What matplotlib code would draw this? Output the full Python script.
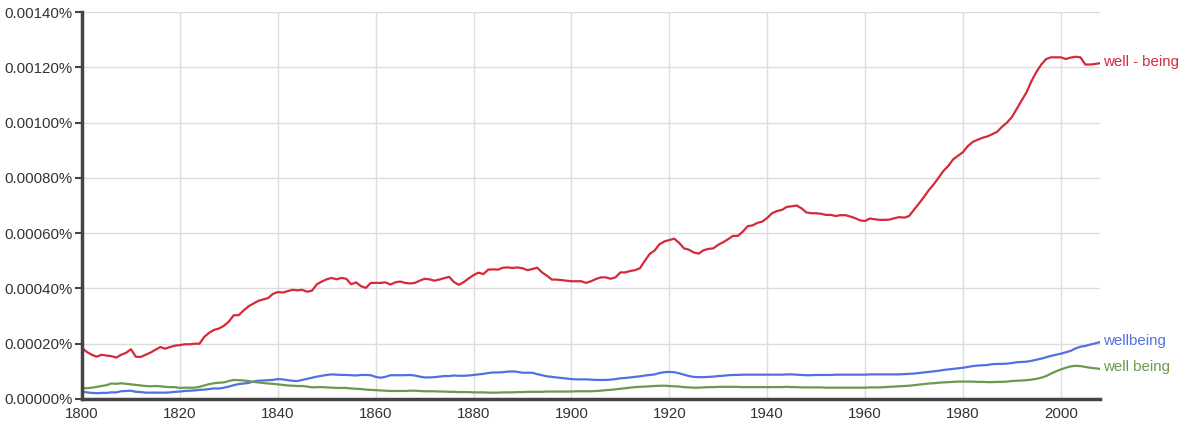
import numpy as np
import matplotlib
matplotlib.use("Agg")
import matplotlib.pyplot as plt
from matplotlib.ticker import FuncFormatter

plt.rcParams['font.family'] = ['Liberation Sans', 'DejaVu Sans']

years = np.arange(1800, 2009)

# values in units of 1e-5 percent
well_dash_being = [
    18.5, 17, 16, 15.3, 16, 15.7, 15.5, 15, 16, 16.7,
    18, 15.3, 15.2, 16, 16.8, 17.8, 18.8, 18.2, 18.8, 19.3,
    19.5, 19.8, 19.8, 20, 20, 22.5, 24, 25, 25.5, 26.5,
    28, 30.3, 30.3, 32, 33.5, 34.5, 35.5, 36, 36.5, 38,
    38.7, 38.5, 39, 39.5, 39.3, 39.5, 38.8, 39.2, 41.5, 42.5,
    43.3, 43.8, 43.3, 43.8, 43.5, 41.5, 42.2, 40.8, 40.2, 42,
    42, 42, 42.2, 41.4, 42.2, 42.5, 42, 41.8, 42, 42.8,
    43.5, 43.3, 42.8, 43.2, 43.7, 44.2, 42.3, 41.3, 42.3, 43.6,
    44.8, 45.7, 45.2, 46.8, 46.9, 46.8, 47.5, 47.6, 47.4, 47.6,
    47.3, 46.6, 47, 47.5, 45.8, 44.6, 43.2, 43.2, 43, 42.8,
    42.6, 42.6, 42.6, 42, 42.6, 43.4, 44, 44, 43.5, 44,
    45.8, 45.8, 46.3, 46.6, 47.3, 50, 52.5, 53.7, 56, 57,
    57.5, 58, 56.5, 54.5, 54, 53, 52.6, 53.8, 54.3, 54.5,
    55.8, 56.7, 57.8, 59, 59, 60.5, 62.5, 62.8, 63.7, 64.2,
    65.5, 67.2, 68, 68.4, 69.5, 69.7, 70, 69, 67.5, 67.2,
    67.2, 67, 66.6, 66.6, 66.2, 66.5, 66.5, 66, 65.4, 64.6,
    64.4, 65.3, 65, 64.8, 64.8, 64.9, 65.4, 65.8, 65.6, 66.2,
    68.5, 70.7, 73, 75.5, 77.6, 80, 82.5, 84.3, 86.7, 88,
    89.3, 91.5, 93, 93.8, 94.5, 95, 95.8, 96.7, 98.5, 100,
    102, 105, 108, 111, 115, 118.3, 121, 123, 123.6, 123.6,
    123.6, 123, 123.5, 123.8, 123.6, 121, 121, 121.2, 121.5]

wellbeing = [
    2.6, 2.4, 2.2, 2.1, 2.2, 2.2, 2.4, 2.4, 2.8, 2.9,
    3.0, 2.6, 2.5, 2.3, 2.3, 2.3, 2.3, 2.3, 2.4, 2.6,
    2.7, 2.9, 3.0, 3.1, 3.3, 3.4, 3.6, 3.8, 3.8, 4.1,
    4.5, 5.0, 5.4, 5.6, 5.8, 6.3, 6.6, 6.7, 6.8, 6.9,
    7.2, 7.1, 6.8, 6.6, 6.5, 6.9, 7.3, 7.7, 8.1, 8.4,
    8.7, 8.9, 8.8, 8.7, 8.7, 8.6, 8.5, 8.7, 8.7, 8.6,
    8.0, 7.7, 8.0, 8.6, 8.6, 8.6, 8.6, 8.7, 8.5, 8.1,
    7.8, 7.8, 7.9, 8.1, 8.3, 8.3, 8.5, 8.4, 8.4, 8.5,
    8.7, 8.9, 9.1, 9.4, 9.6, 9.6, 9.7, 9.9, 10.0, 9.8,
    9.5, 9.5, 9.5, 9.0, 8.6, 8.2, 8.0, 7.8, 7.6, 7.4,
    7.2, 7.1, 7.1, 7.1, 7.0, 6.9, 6.9, 6.9, 7.0, 7.2,
    7.5, 7.6, 7.8, 8.0, 8.2, 8.5, 8.7, 8.9, 9.4, 9.7,
    9.8, 9.7, 9.3, 8.8, 8.3, 8.0, 7.9, 7.9, 8.0, 8.1,
    8.3, 8.4, 8.6, 8.7, 8.7, 8.8, 8.8, 8.8, 8.8, 8.8,
    8.8, 8.8, 8.8, 8.8, 8.9, 8.9, 8.8, 8.7, 8.6, 8.6,
    8.7, 8.7, 8.7, 8.7, 8.8, 8.8, 8.8, 8.8, 8.8, 8.8,
    8.8, 8.9, 8.9, 8.9, 8.9, 8.9, 8.9, 8.9, 9.0, 9.1,
    9.2, 9.4, 9.6, 9.8, 10.0, 10.2, 10.5, 10.7, 10.9, 11.1,
    11.3, 11.6, 11.9, 12.1, 12.2, 12.3, 12.6, 12.7, 12.7, 12.8,
    13.0, 13.3, 13.4, 13.5, 13.8, 14.2, 14.6, 15.1, 15.6, 16.0,
    16.4, 16.9, 17.4, 18.3, 18.9, 19.2, 19.7, 20.1, 20.6]

well_being = [
    3.9, 3.9, 4.1, 4.4, 4.7, 5.0, 5.6, 5.5, 5.7, 5.5,
    5.3, 5.1, 4.9, 4.7, 4.6, 4.7, 4.6, 4.4, 4.3, 4.3,
    4.0, 4.1, 4.1, 4.1, 4.4, 4.9, 5.4, 5.7, 5.9, 6.0,
    6.5, 6.9, 6.8, 6.7, 6.5, 6.2, 6.0, 5.8, 5.6, 5.5,
    5.3, 5.1, 4.9, 4.8, 4.7, 4.7, 4.5, 4.2, 4.3, 4.3,
    4.2, 4.1, 4.0, 4.0, 4.0, 3.8, 3.7, 3.6, 3.4, 3.3,
    3.2, 3.1, 3.0, 2.9, 2.9, 2.9, 2.9, 3.0, 3.0, 2.9,
    2.8, 2.8, 2.8, 2.7, 2.7, 2.6, 2.6, 2.5, 2.5, 2.5,
    2.4, 2.4, 2.4, 2.3, 2.3, 2.3, 2.4, 2.4, 2.4, 2.5,
    2.5, 2.6, 2.6, 2.6, 2.6, 2.7, 2.7, 2.7, 2.7, 2.7,
    2.7, 2.8, 2.8, 2.8, 2.8, 2.9, 3.0, 3.2, 3.3, 3.5,
    3.7, 3.9, 4.1, 4.3, 4.4, 4.5, 4.6, 4.7, 4.8, 4.8,
    4.7, 4.6, 4.5, 4.3, 4.2, 4.1, 4.1, 4.2, 4.3, 4.3,
    4.4, 4.4, 4.4, 4.4, 4.4, 4.3, 4.3, 4.3, 4.3, 4.3,
    4.3, 4.3, 4.3, 4.3, 4.4, 4.3, 4.3, 4.2, 4.2, 4.2,
    4.2, 4.2, 4.1, 4.1, 4.1, 4.1, 4.1, 4.1, 4.1, 4.1,
    4.1, 4.2, 4.2, 4.2, 4.3, 4.4, 4.5, 4.6, 4.7, 4.8,
    5.0, 5.2, 5.4, 5.6, 5.7, 5.9, 6.0, 6.1, 6.2, 6.3,
    6.3, 6.3, 6.3, 6.2, 6.2, 6.1, 6.1, 6.2, 6.2, 6.3,
    6.5, 6.6, 6.7, 6.8, 7.0, 7.3, 7.7, 8.3, 9.2, 10.0,
    10.7, 11.3, 11.8, 12.0, 11.9, 11.6, 11.3, 11.1, 10.9]

labels = ['well - being', 'wellbeing', 'well being']
colors = ['#d42a3a', '#5270e2', '#6a9a4d']
series = [well_dash_being, wellbeing, well_being]

fig = plt.figure(figsize=(11.87, 4.29), dpi=100)
ax = fig.add_axes([82/1187, 30/429, 1018/1187, 387/429])

for vals, lab, col in zip(series, labels, colors):
    v = np.array(vals) * 1e-5
    ax.plot(years, v, color=col, lw=1.6)
    ax.annotate(lab, xy=(years[-1], v[-1]), xytext=(2, 1),
                textcoords='offset points', va='center', ha='left',
                color=col, fontsize=10.8, annotation_clip=False)

ax.set_xlim(1800, 2008)
ax.set_ylim(0, 0.0014)
ax.set_xticks(np.arange(1800, 2001, 20))
ax.set_yticks(np.arange(0, 0.00141, 0.0002))
ax.yaxis.set_major_formatter(FuncFormatter(lambda y, p: '%.5f%%' % y))
ax.grid(True, color='#dddddd', lw=1)
ax.set_axisbelow(True)
for s in ['top', 'right']:
    ax.spines[s].set_visible(False)
for s in ['left', 'bottom']:
    ax.spines[s].set_color('#444444')
    ax.spines[s].set_linewidth(2.5)
ax.tick_params(axis='y', length=5, width=1.5, color='#444444',
               labelsize=10.8, labelcolor='#333333', pad=2)
ax.tick_params(axis='x', length=0, labelsize=10.8, labelcolor='#333333', pad=6)

fig.savefig('out.png', dpi=100)
